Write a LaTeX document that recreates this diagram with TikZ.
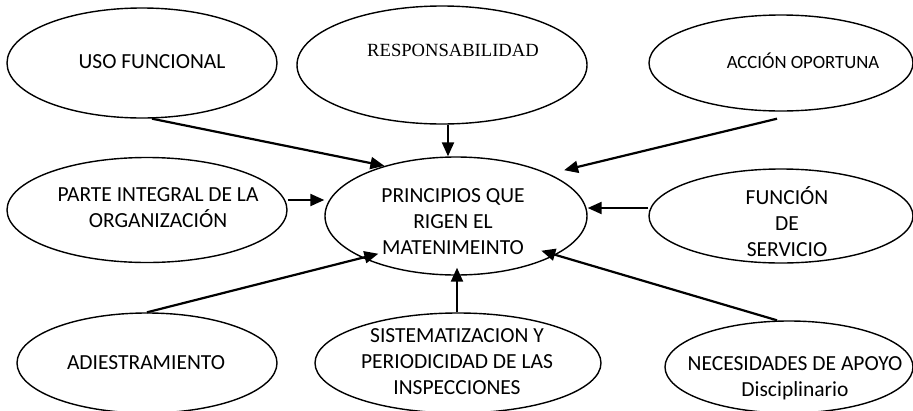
\documentclass[tikz,border=0pt]{standalone}
\usepackage{fontspec}
\setmainfont{Carlito}
\newfontfamily\serifrm{Liberation Serif}
\usetikzlibrary{shapes.geometric,arrows.meta,calc}
\begin{document}
\begin{tikzpicture}[x=1pt,y=-1pt,
  ell/.style={draw,ellipse,line width=1.4pt,inner sep=0pt},
  txt/.style={align=center,inner sep=0pt,font=\fontsize{21.5}{26}\selectfont},
  arr/.style={line width=2.2pt,-{Triangle[length=14pt,width=12pt]}}]
\useasboundingbox (0,0) rectangle (913,410);
\clip (0,0) rectangle (913,410);
% ellipses
\node[ell,minimum width=270pt,minimum height=110pt] (uso) at (142,63) {};
\node[ell,minimum width=290pt,minimum height=118pt] (resp) at (442,65) {};
\node[ell,minimum width=264pt,minimum height=96pt] (acc) at (781,63) {};
\node[ell,minimum width=280pt,minimum height=105pt] (parte) at (147,210) {};
\node[ell,minimum width=262pt,minimum height=118pt] (C) at (456,216) {};
\node[ell,minimum width=264pt,minimum height=94pt] (func) at (781,216) {};
\node[ell,minimum width=260pt,minimum height=100pt] (adi) at (147,363) {};
\node[ell,minimum width=286pt,minimum height=100pt] (sist) at (458,363) {};
\node[ell,minimum width=248pt,minimum height=92pt] (nec) at (789,367) {};
% texts
\node[txt] (usot) at (152,62) {USO FUNCIONAL};
\node[txt,font=\serifrm\fontsize{18.6}{22}\selectfont] (respt) at (453,50) {RESPONSABILIDAD};
\node[txt,font=\fontsize{18.7}{22}\selectfont] (acct) at (803,61) {ACCIÓN OPORTUNA};
\node[txt] (partet) at (158,208) {PARTE INTEGRAL DE LA\\ORGANIZACIÓN};
\node[txt] (Ct) at (453,222) {PRINCIPIOS QUE\\RIGEN EL\\MATENIMEINTO};
\node[txt] (funct) at (787,222) {FUNCIÓN\\DE\\SERVICIO};
\node[txt] (adit) at (146,363) {ADIESTRAMIENTO};
\node[txt] (sistt) at (457,362) {SISTEMATIZACION Y\\PERIODICIDAD DE LAS\\INSPECCIONES};
\node[txt] (nect) at (795,378) {NECESIDADES DE APOYO\\Disciplinario};
% connectors
\draw[arr] ([xshift=10pt]uso.south) -- (C.145);
\draw[arr] ([xshift=6pt]resp.south) -- ([xshift=6pt]resp.south |- C.north);
\draw[arr] ([xshift=-4pt,yshift=-7pt]acc.south) -- ([shift={(12,-5)}]C.23);
\draw[arr] ([yshift=10pt]parte.east) -- ([yshift=10pt]parte.east -| C.west);
\draw[arr] ([yshift=8pt]func.west) -- ([yshift=8pt]func.west -| C.east);
\draw[arr] (adi.north) -- ([shift={(12,-6)}]C.206.6);
\draw[arr] ([xshift=-1pt]sist.north) -- ([xshift=-1pt,yshift=8pt]sist.north |- C.south);
\draw[arr] ([xshift=-12pt]nec.north) -- ([shift={(-13,-5)}]C.-22);
\end{tikzpicture}
\end{document}
